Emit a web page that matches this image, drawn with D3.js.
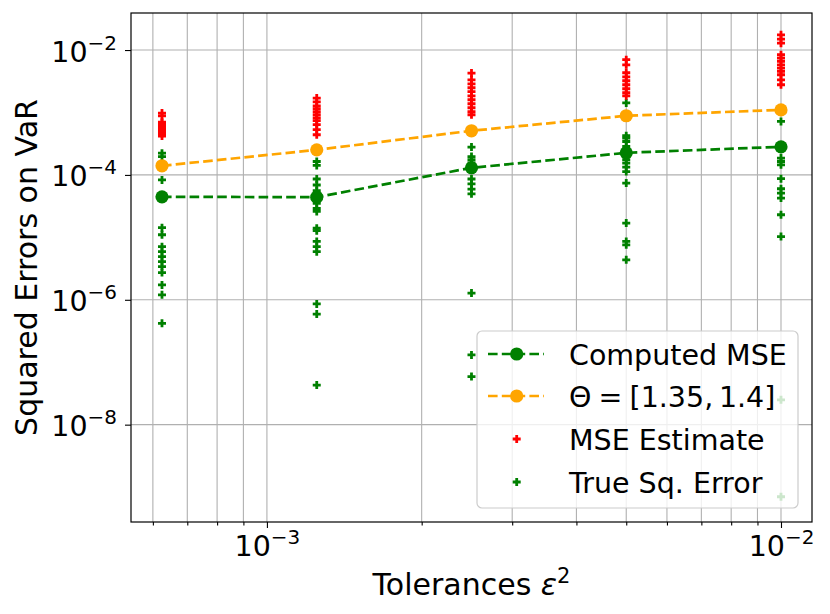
<!DOCTYPE html>
<html>
<head>
<meta charset="utf-8">
<script src="https://cdn.jsdelivr.net/npm/d3@7"></script>
<style>
  body { margin: 0; background: #fff; }
  text { font-family: "DejaVu Sans", sans-serif; fill: #000; }
</style>
</head>
<body>
<div id="chart"></div>
<script>
// tolerances eps^2 (x)
var tolerances = [0.000625, 0.00125, 0.0025, 0.005, 0.01];

// line series
var computedMSE = [4.46e-5, 4.4e-5, 1.30e-4, 2.26e-4, 2.82e-4];
var thetaMSE = [1.40e-4, 2.52e-4, 5.09e-4, 8.86e-4, 1.10e-3];

// scatter: one list per tolerance
var mseEstimate = [
  [9.8e-4, 8.8e-4, 7.0e-4, 6.6e-4, 6.1e-4, 5.7e-4, 5.3e-4, 4.9e-4, 4.6e-4, 4.2e-4],
  [1.70e-3, 1.48e-3, 1.28e-3, 1.15e-3, 1.03e-3, 9.2e-4, 8.2e-4, 7.4e-4, 6.4e-4, 5.3e-4, 4.4e-4],
  [4.28e-3, 3.34e-3, 2.88e-3, 2.49e-3, 2.15e-3, 1.85e-3, 1.60e-3, 1.38e-3, 1.19e-3, 1.03e-3, 9.2e-4],
  [7.0e-3, 5.8e-3, 4.33e-3, 3.73e-3, 3.22e-3, 2.78e-3, 2.40e-3, 2.07e-3, 1.85e-3],
  [1.75e-2, 1.5e-2, 1.29e-2, 8.4e-3, 7.4e-3, 6.6e-3, 5.8e-3, 5.15e-3, 4.54e-3, 4.02e-3, 3.34e-3, 2.78e-3]
];
var trueSqError = [
  [2.23e-4, 1.97e-4, 8.3e-5, 1.43e-5, 1.10e-5, 7.1e-6, 5.9e-6, 4.9e-6, 4.1e-6, 3.4e-6, 2.73e-6, 1.73e-6, 1.20e-6, 4.2e-7],
  [1.64e-4, 1.42e-4, 8.6e-5, 6.9e-5, 5.6e-5, 3.5e-5, 2.9e-5, 2.6e-5, 1.40e-5, 1.28e-5, 8.6e-6, 7.1e-6, 5.9e-6, 8.6e-7, 5.9e-7, 4.3e-8],
  [2.79e-4, 1.97e-4, 1.75e-4, 1.56e-4, 8.6e-5, 7.2e-5, 5.9e-5, 4.98e-5, 1.28e-6, 1.31e-7, 5.9e-8],
  [1.42e-3, 4.24e-4, 3.89e-4, 3.43e-4, 2.85e-4, 1.75e-4, 1.55e-4, 1.33e-4, 1.13e-4, 7.4e-5, 1.69e-5, 8.6e-6, 7.6e-6, 4.36e-6],
  [7.2e-4, 1.86e-4, 1.64e-4, 1.45e-4, 8.7e-5, 6.0e-5, 5.1e-5, 4.25e-5, 2.3e-5, 1.03e-5, 2.5e-8, 7.0e-10]
];

// ticks
var xTickExps = [-3, -2];
var xMinorTicks = [6e-4, 7e-4, 8e-4, 9e-4, 2e-3, 3e-3, 4e-3, 5e-3, 6e-3, 7e-3, 8e-3, 9e-3];
var yTickExps = [-8, -6, -4, -2];
var legendLabels = ["Computed MSE", "\u0398\u2005=\u2005[1.35,\u20091.4]", "MSE Estimate", "True Sq. Error"];

var width = 830, height = 614;
var pLeft = 131, pRight = 812, pTop = 13, pBottom = 522;
var fs = 28.5, labelFs = 30;

var svg = d3.select('#chart').append('svg').attr('width', width).attr('height', height);

var x = d3.scaleLog().domain([5.44e-4, 1.149e-2]).range([pLeft, pRight]);
var y = d3.scaleLog().domain([2.76e-10, 3.92e-2]).range([pBottom, pTop]);

var xMajor = xTickExps.map(function(e) { return Math.pow(10, e); });
var yMajor = yTickExps.map(function(e) { return Math.pow(10, e); });

// grid
var grid = svg.append('g').attr('stroke', '#b0b0b0').attr('stroke-width', 1.1);
grid.selectAll('line.vx')
  .data(xMajor.concat(xMinorTicks))
  .enter().append('line')
  .attr('x1', function(d) { return x(d); }).attr('x2', function(d) { return x(d); })
  .attr('y1', pTop).attr('y2', pBottom);
grid.selectAll('line.hy')
  .data(yMajor)
  .enter().append('line')
  .attr('x1', pLeft).attr('x2', pRight)
  .attr('y1', function(d) { return y(d); }).attr('y2', function(d) { return y(d); });

// axes
var xAxis = svg.append('g').attr('transform', 'translate(0,' + pBottom + ')')
  .call(d3.axisBottom(x).tickValues(xMajor).tickSize(6).tickFormat(''));
var xAxisMinor = svg.append('g').attr('transform', 'translate(0,' + pBottom + ')')
  .call(d3.axisBottom(x).tickValues(xMinorTicks).tickSize(3.5).tickFormat(''));
var yAxis = svg.append('g').attr('transform', 'translate(' + pLeft + ',0)')
  .call(d3.axisLeft(y).tickValues(yMajor).tickSize(6).tickFormat(''));
[xAxis, xAxisMinor, yAxis].forEach(function(g) {
  g.select('.domain').remove();
  g.selectAll('.tick line').attr('stroke', '#000').attr('stroke-width', 1.1);
});

function powLabel(sel, e) {
  sel.append('tspan').text('10');
  sel.append('tspan').attr('dy', -12).attr('font-size', fs * 0.7).text('\u2212' + Math.abs(e));
}

xAxis.selectAll('.tick').each(function(d, i) {
  var t = d3.select(this).append('text').attr('y', 34).attr('text-anchor', 'middle')
    .attr('font-size', fs).attr('fill', '#000');
  powLabel(t, xTickExps[i]);
});
yAxis.selectAll('.tick').each(function(d, i) {
  var t = d3.select(this).append('text').attr('x', -14).attr('y', 11).attr('text-anchor', 'end')
    .attr('font-size', fs).attr('fill', '#000');
  powLabel(t, yTickExps[i]);
});

// axis labels
var xl = svg.append('text').attr('x', (pLeft + pRight) / 2).attr('y', 595)
  .attr('text-anchor', 'middle').attr('font-size', labelFs);
xl.append('tspan').text('Tolerances ');
xl.append('tspan').attr('font-style', 'italic').text('\u03b5');
xl.append('tspan').attr('dy', -12).attr('font-size', labelFs * 0.7).text('2');

svg.append('text')
  .attr('transform', 'translate(37,' + (pTop + pBottom) / 2 + ') rotate(-90)')
  .attr('text-anchor', 'middle').attr('font-size', labelFs)
  .text('Squared Errors on VaR');

// scatter (plus markers)
var plus = 'M-4,0H4M0,-4V4';
function scatter(lists, color) {
  var pts = [];
  lists.forEach(function(list, i) {
    list.forEach(function(v) { pts.push([tolerances[i], v]); });
  });
  svg.append('g').selectAll('path')
    .data(pts).enter().append('path')
    .attr('d', plus)
    .attr('transform', function(d) { return 'translate(' + x(d[0]) + ',' + y(d[1]) + ')'; })
    .attr('stroke', color).attr('stroke-width', 2.8).attr('fill', 'none');
}
scatter(trueSqError, 'green');
scatter(mseEstimate, 'red');

// dashed lines with circles
var dash = '9.6,4.2';
var line = d3.line()
  .x(function(d, i) { return x(tolerances[i]); })
  .y(function(d) { return y(d); });
function series(vals, color) {
  svg.append('path').datum(vals).attr('d', line)
    .attr('fill', 'none').attr('stroke', color).attr('stroke-width', 2.7)
    .attr('stroke-dasharray', dash);
  svg.append('g').selectAll('circle').data(vals).enter().append('circle')
    .attr('cx', function(d, i) { return x(tolerances[i]); })
    .attr('cy', function(d) { return y(d); })
    .attr('r', 6.6).attr('fill', color);
}
series(computedMSE, 'green');
series(thetaMSE, 'orange');

// frame
svg.append('rect').attr('x', pLeft).attr('y', pTop)
  .attr('width', pRight - pLeft).attr('height', pBottom - pTop)
  .attr('fill', 'none').attr('stroke', '#000').attr('stroke-width', 1.2);

// legend
var lg = svg.append('g').attr('transform', 'translate(477,331)');
lg.append('rect').attr('width', 321).attr('height', 177).attr('rx', 5)
  .attr('fill', '#fff').attr('fill-opacity', 0.8)
  .attr('stroke', '#cccccc').attr('stroke-width', 1.2);
var rowY = [23, 65, 108, 151];
var legendColors = ['green', 'orange', 'red', 'green'];
legendLabels.forEach(function(lab, i) {
  var row = lg.append('g').attr('transform', 'translate(0,' + rowY[i] + ')');
  if (i < 2) {
    row.append('line').attr('x1', 11).attr('x2', 67)
      .attr('stroke', legendColors[i]).attr('stroke-width', 2.7)
      .attr('stroke-dasharray', dash);
    row.append('circle').attr('cx', 39.7).attr('r', 6.6).attr('fill', legendColors[i]);
  } else {
    row.append('path').attr('d', plus).attr('transform', 'translate(39.7,0)')
      .attr('stroke', legendColors[i]).attr('stroke-width', 2.8).attr('fill', 'none');
  }
  row.append('text').attr('x', 92).attr('y', 10.5).attr('font-size', fs).text(lab);
});
</script>
</body>
</html>
